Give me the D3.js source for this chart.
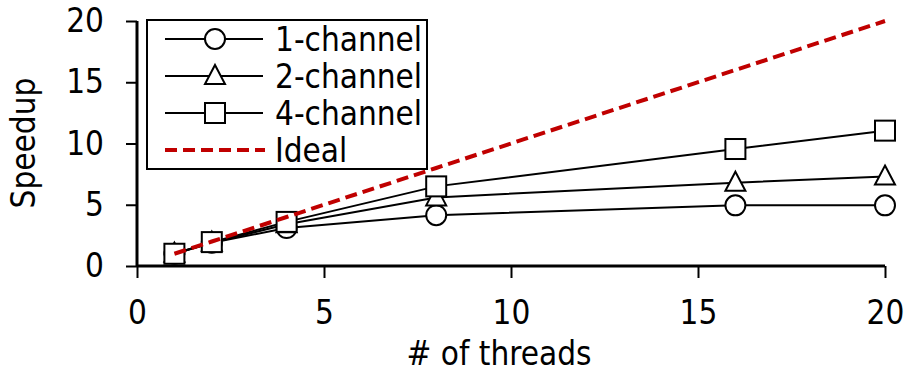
<!DOCTYPE html>
<html>
<head>
<meta charset="utf-8">
<script src="https://cdn.jsdelivr.net/npm/d3@7"></script>
<style>
  body { margin: 0; background: #fff; }
  svg text { font-family: "DejaVu Sans Condensed", "DejaVu Sans", sans-serif; fill: #000; }
</style>
</head>
<body>
<svg id="chart" width="907" height="372"></svg>
<script>
var threads = [1, 2, 4, 8, 16, 20];
var oneChannel = [1, 1.9, 3.1, 4.15, 4.95, 4.95];
var twoChannel = [1, 1.9, 3.4, 5.6, 6.8, 7.3];
var fourChannel = [1, 1.95, 3.6, 6.5, 9.55, 11.05];
var ideal = [1, 2, 4, 8, 16, 20];
var xTicks = [0, 5, 10, 15, 20];
var yTicks = [0, 5, 10, 15, 20];

var series = [
  { name: "1-channel", values: oneChannel, symbol: "circle" },
  { name: "2-channel", values: twoChannel, symbol: "triangle" },
  { name: "4-channel", values: fourChannel, symbol: "square" }
];

var svg = d3.select("#chart");
var x = d3.scaleLinear().domain([0, 20]).range([137, 885]);
var y = d3.scaleLinear().domain([0, 20]).range([266, 21]);

// axes
var xAxis = svg.append("g").attr("transform", "translate(0,266)")
  .call(d3.axisBottom(x).tickValues(xTicks).tickSize(12).tickPadding(23));
var yAxis = svg.append("g").attr("transform", "translate(137,0)")
  .call(d3.axisLeft(y).tickValues(yTicks).tickSize(11).tickPadding(22));
[xAxis, yAxis].forEach(function (a) {
  a.select(".domain").attr("stroke", "#000").attr("stroke-width", 3);
  a.selectAll(".tick line").attr("stroke", "#000").attr("stroke-width", 2);
  a.selectAll(".tick text").style("font-size", "33px");
});
yAxis.select(".domain").attr("d", "M137,21V266").attr("transform", "translate(-137,0)");
xAxis.select(".domain").attr("d", "M0,0H748").attr("transform", "translate(137,0)");

svg.append("text").attr("x", 499).attr("y", 365).attr("text-anchor", "middle")
  .style("font-size", "33px").text("# of threads");
svg.append("text").attr("transform", "translate(35,143) rotate(-90)").attr("text-anchor", "middle")
  .style("font-size", "33px").text("Speedup");

function drawSymbol(g, type, cx, cy) {
  if (type === "circle") {
    g.append("circle").attr("cx", cx).attr("cy", cy).attr("r", 10)
      .attr("fill", "#fff").attr("stroke", "#000").attr("stroke-width", 2);
  } else if (type === "square") {
    g.append("rect").attr("x", cx - 10).attr("y", cy - 10).attr("width", 20).attr("height", 20)
      .attr("fill", "#fff").attr("stroke", "#000").attr("stroke-width", 2);
  } else {
    g.append("path").attr("d", "M" + cx + "," + (cy - 11) + "L" + (cx + 10) + "," + (cy + 8) + "L" + (cx - 10) + "," + (cy + 8) + "Z")
      .attr("fill", "#fff").attr("stroke", "#000").attr("stroke-width", 2);
  }
}

var line = d3.line().x(function (d) { return x(d[0]); }).y(function (d) { return y(d[1]); });

series.forEach(function (s) {
  var pts = threads.map(function (t, i) { return [t, s.values[i]]; });
  svg.append("path").datum(pts).attr("d", line)
    .attr("fill", "none").attr("stroke", "#000").attr("stroke-width", 2);
});
series.forEach(function (s) {
  var g = svg.append("g");
  threads.forEach(function (t, i) { drawSymbol(g, s.symbol, x(t), y(s.values[i])); });
});

svg.append("path").datum(threads.map(function (t, i) { return [t, ideal[i]]; }))
  .attr("d", line).attr("fill", "none").attr("stroke", "#c00000")
  .attr("stroke-width", 4).attr("stroke-dasharray", "12,6");

// legend
var lg = svg.append("g");
lg.append("rect").attr("x", 147).attr("y", 20).attr("width", 280).attr("height", 149)
  .attr("fill", "#fff").attr("stroke", "#000").attr("stroke-width", 2);
var rows = [39, 76, 113, 150];
series.forEach(function (s, i) {
  lg.append("line").attr("x1", 165).attr("x2", 263).attr("y1", rows[i]).attr("y2", rows[i])
    .attr("stroke", "#000").attr("stroke-width", 2);
  drawSymbol(lg, s.symbol, 215, rows[i]);
  lg.append("text").attr("x", 275).attr("y", rows[i] + 12).style("font-size", "33px").text(s.name);
});
lg.append("line").attr("x1", 165).attr("x2", 265).attr("y1", rows[3]).attr("y2", rows[3])
  .attr("stroke", "#c00000").attr("stroke-width", 4).attr("stroke-dasharray", "12,6");
lg.append("text").attr("x", 275).attr("y", rows[3] + 12).style("font-size", "33px").text("Ideal");
</script>
</body>
</html>
